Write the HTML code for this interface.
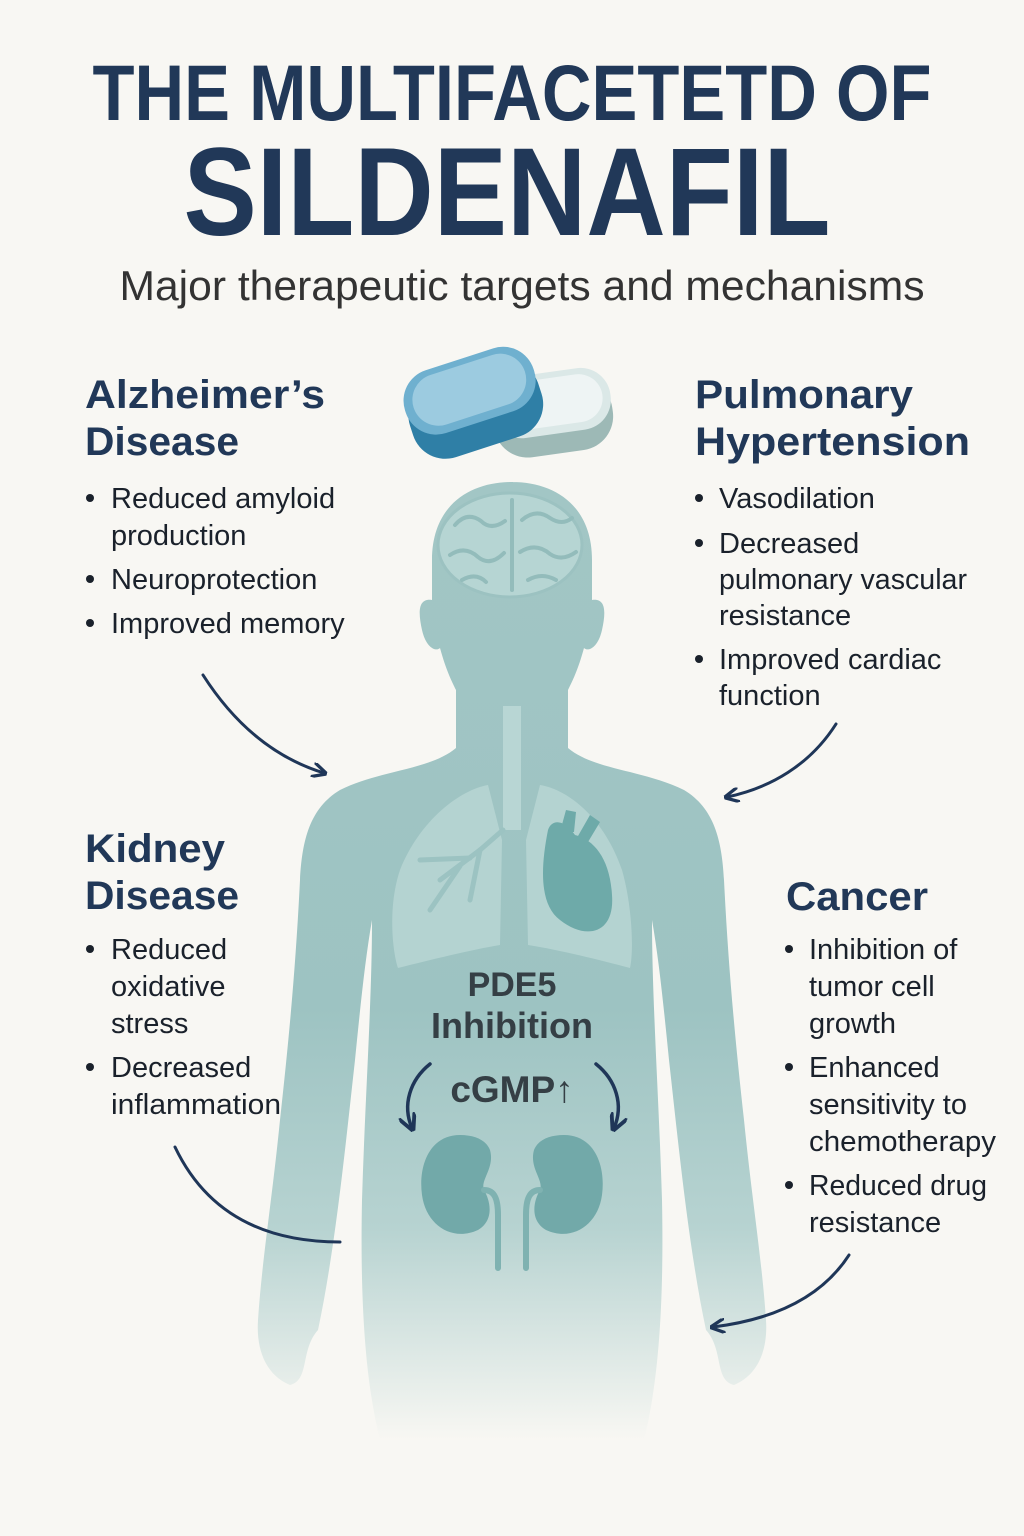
<!DOCTYPE html>
<html><head><meta charset="utf-8"><style>
html,body{margin:0;padding:0;background:#f8f7f3}
svg{display:block}
</style></head><body>
<svg width="1024" height="1536" viewBox="0 0 1024 1536" xmlns="http://www.w3.org/2000/svg" font-family="Liberation Sans, sans-serif">
<defs>
<linearGradient id="bg" gradientUnits="userSpaceOnUse" x1="0" y1="480" x2="0" y2="1440">
<stop offset="0" stop-color="#a2c6c5"/>
<stop offset="0.55" stop-color="#9dc3c2"/>
<stop offset="0.78" stop-color="#b7d3d1"/>
<stop offset="1" stop-color="#f8f7f3"/>
</linearGradient>
<marker id="ah" viewBox="0 0 10 10" refX="8" refY="5" markerWidth="5" markerHeight="5" orient="auto"><path d="M0,0 L10,5 L0,10" fill="none" stroke="#1f3658" stroke-width="2.2"/></marker>
</defs>
<rect width="1024" height="1536" fill="#f8f7f3"/>

<!-- title -->
<text x="512" y="120" text-anchor="middle" font-size="79" font-weight="bold" fill="#213858" textLength="839" lengthAdjust="spacingAndGlyphs">THE MULTIFACETETD OF</text>
<text x="507" y="235" text-anchor="middle" font-size="125" font-weight="bold" fill="#213858" textLength="647" lengthAdjust="spacingAndGlyphs">SILDENAFIL</text>
<text x="522" y="300" text-anchor="middle" font-size="42" fill="#333" textLength="805" lengthAdjust="spacingAndGlyphs">Major therapeutic targets and mechanisms</text>

<!-- body -->
<g fill="url(#bg)">
<path id="half" d="M512,482 C470,482 432,505 432,560 L432,600 C418,598 418,612 422,630 C426,648 436,652 440,648 C446,670 452,682 456,690 L456,748 C430,770 380,770 340,790 C310,808 302,840 300,880 C296,960 290,1030 280,1120 C272,1200 262,1260 258,1320 C256,1350 266,1375 290,1385 C310,1380 300,1350 318,1330 C335,1250 345,1150 355,1060 C360,1010 365,960 372,920 C372,1000 365,1100 362,1200 C360,1300 365,1380 380,1440 L513,1440 L513,482 Z"/>
<path d="M512,482 C470,482 432,505 432,560 L432,600 C418,598 418,612 422,630 C426,648 436,652 440,648 C446,670 452,682 456,690 L456,748 C430,770 380,770 340,790 C310,808 302,840 300,880 C296,960 290,1030 280,1120 C272,1200 262,1260 258,1320 C256,1350 266,1375 290,1385 C310,1380 300,1350 318,1330 C335,1250 345,1150 355,1060 C360,1010 365,960 372,920 C372,1000 365,1100 362,1200 C360,1300 365,1380 380,1440 L511,1440 L511,482 Z" transform="translate(1024,0) scale(-1,1)"/>
</g>
<!-- brain -->
<ellipse cx="510" cy="545" rx="72" ry="52" fill="#b6d5d3" stroke="#9cc2c1" stroke-width="3"/>
<g fill="none" stroke="#93bcbb" stroke-width="4" stroke-linecap="round">
<path d="M512,500 L512,590"/>
<path d="M455,525 q12,-14 26,-4 q10,10 24,0"/>
<path d="M450,555 q15,-10 28,2 q12,10 26,-4"/>
<path d="M462,580 q14,-8 24,2"/>
<path d="M522,520 q14,-12 28,-2 q12,8 22,0"/>
<path d="M520,552 q16,-10 30,2 q12,8 26,-2"/>
<path d="M528,580 q14,-8 28,0"/>
</g>
<!-- trachea -->
<path d="M503,706 L521,706 L521,830 L503,830 Z" fill="#b8d6d4"/>
<!-- lungs -->
<path d="M488,785 C460,790 420,820 400,870 C388,905 392,950 398,968 C430,960 470,950 500,945 L502,840 Z" fill="#b4d3d1"/>
<path d="M540,785 C570,790 605,820 622,870 C632,905 634,950 630,968 C600,960 560,950 528,945 L526,840 Z" fill="#b4d3d1"/>
<g fill="none" stroke="#9cc3c2" stroke-width="5" stroke-linecap="round">
<path d="M503,830 L480,850 L440,880"/><path d="M480,850 L470,900"/><path d="M460,866 L430,910"/><path d="M470,858 L420,860"/>
</g>
<!-- heart -->
<path d="M548,830 C540,870 540,905 560,920 C585,940 615,935 612,895 C610,860 595,840 575,835 C565,820 552,818 548,830 Z" fill="#6eaaa9"/>
<path d="M560,832 L566,810 L576,812 L574,832 M578,836 L590,815 L600,822 L588,842" fill="#6eaaa9"/>
<!-- kidneys -->
<path d="M460,1135 C430,1135 418,1165 422,1195 C426,1225 452,1242 478,1230 C495,1220 490,1200 484,1190 C480,1180 495,1168 490,1150 C486,1140 475,1135 460,1135 Z" fill="#72a9a9"/>
<path d="M564,1135 C594,1135 606,1165 602,1195 C598,1225 572,1242 546,1230 C529,1220 534,1200 540,1190 C544,1180 529,1168 534,1150 C538,1140 549,1135 564,1135 Z" fill="#72a9a9"/>
<g fill="none" stroke="#7fb2b1" stroke-width="6" stroke-linecap="round">
<path d="M484,1190 C495,1190 498,1200 498,1215 L498,1268"/>
<path d="M540,1190 C529,1190 526,1200 526,1215 L526,1268"/>
</g>

<!-- pills -->
<g transform="rotate(-8 552 410)">
<rect x="492" y="382" width="120" height="72" rx="34" fill="#9db9b6"/>
<rect x="492" y="372" width="120" height="62" rx="30" fill="#dbe8e7"/>
<rect x="500" y="378" width="104" height="48" rx="24" fill="#eef4f4"/>
</g>
<g transform="rotate(-18 470 400)">
<rect x="405" y="372" width="135" height="78" rx="34" fill="#2f7fa6"/>
<rect x="405" y="358" width="135" height="66" rx="32" fill="#6fb0cf"/>
<rect x="414" y="364" width="117" height="52" rx="26" fill="#9ccbe0"/>
</g>

<!-- PDE5 -->
<g font-weight="bold" fill="#353f45" text-anchor="middle">
<text x="512" y="996" font-size="34">PDE5</text>
<text x="512" y="1038" font-size="36">Inhibition</text>
<text x="512" y="1102" font-size="37">cGMP↑</text>
</g>
<g fill="none" stroke="#1f3658" stroke-width="3.5" stroke-linecap="round">
<path d="M430,1064 C410,1080 402,1105 412,1128" marker-end="url(#ah)"/>
<path d="M596,1064 C616,1080 624,1105 614,1128" marker-end="url(#ah)"/>
</g>

<!-- connector arrows -->
<g fill="none" stroke="#1f3658" stroke-width="3" stroke-linecap="round">
<path d="M203,675 C235,725 275,758 324,773" marker-end="url(#ah)"/>
<path d="M836,724 C810,765 770,788 727,797" marker-end="url(#ah)"/>
<path d="M175,1147 C205,1210 260,1242 340,1242"/>
<path d="M849,1255 C820,1300 770,1320 713,1327" marker-end="url(#ah)"/>
</g>

<!-- headings -->
<g font-weight="bold" fill="#213858" font-size="40">
<text x="85" y="408" textLength="240" lengthAdjust="spacingAndGlyphs">Alzheimer’s</text>
<text x="85" y="455" textLength="154" lengthAdjust="spacingAndGlyphs">Disease</text>
<text x="695" y="408" textLength="218" lengthAdjust="spacingAndGlyphs">Pulmonary</text>
<text x="695" y="455" textLength="275" lengthAdjust="spacingAndGlyphs">Hypertension</text>
<text x="85" y="862" textLength="140" lengthAdjust="spacingAndGlyphs">Kidney</text>
<text x="85" y="909" textLength="154" lengthAdjust="spacingAndGlyphs">Disease</text>
<text x="786" y="910" textLength="142" lengthAdjust="spacingAndGlyphs">Cancer</text>
</g>
<g fill="#1a212b" font-size="29">
<circle cx="90" cy="498" r="4"/><text x="111" y="508">Reduced amyloid</text>
<text x="111" y="545">production</text>
<circle cx="90" cy="579" r="4"/><text x="111" y="589">Neuroprotection</text>
<circle cx="90" cy="623" r="4"/><text x="111" y="633">Improved memory</text>

<circle cx="699" cy="498" r="4"/><text x="719" y="508">Vasodilation</text>
<circle cx="699" cy="543" r="4"/><text x="719" y="553">Decreased</text>
<text x="719" y="589" textLength="248" lengthAdjust="spacingAndGlyphs">pulmonary vascular</text>
<text x="719" y="625">resistance</text>
<circle cx="699" cy="659" r="4"/><text x="719" y="669">Improved cardiac</text>
<text x="719" y="705">function</text>

<circle cx="90" cy="949" r="4"/><text x="111" y="959">Reduced</text>
<text x="111" y="996">oxidative</text>
<text x="111" y="1033">stress</text>
<circle cx="90" cy="1067" r="4"/><text x="111" y="1077">Decreased</text>
<text x="111" y="1114" textLength="170" lengthAdjust="spacingAndGlyphs">inflammation</text>

<circle cx="789" cy="949" r="4"/><text x="809" y="959">Inhibition of</text>
<text x="809" y="996">tumor cell</text>
<text x="809" y="1033">growth</text>
<circle cx="789" cy="1067" r="4"/><text x="809" y="1077">Enhanced</text>
<text x="809" y="1114">sensitivity to</text>
<text x="809" y="1151" textLength="187" lengthAdjust="spacingAndGlyphs">chemotherapy</text>
<circle cx="789" cy="1185" r="4"/><text x="809" y="1195" textLength="178" lengthAdjust="spacingAndGlyphs">Reduced drug</text>
<text x="809" y="1232">resistance</text>
</g>
</svg>
</body></html>
